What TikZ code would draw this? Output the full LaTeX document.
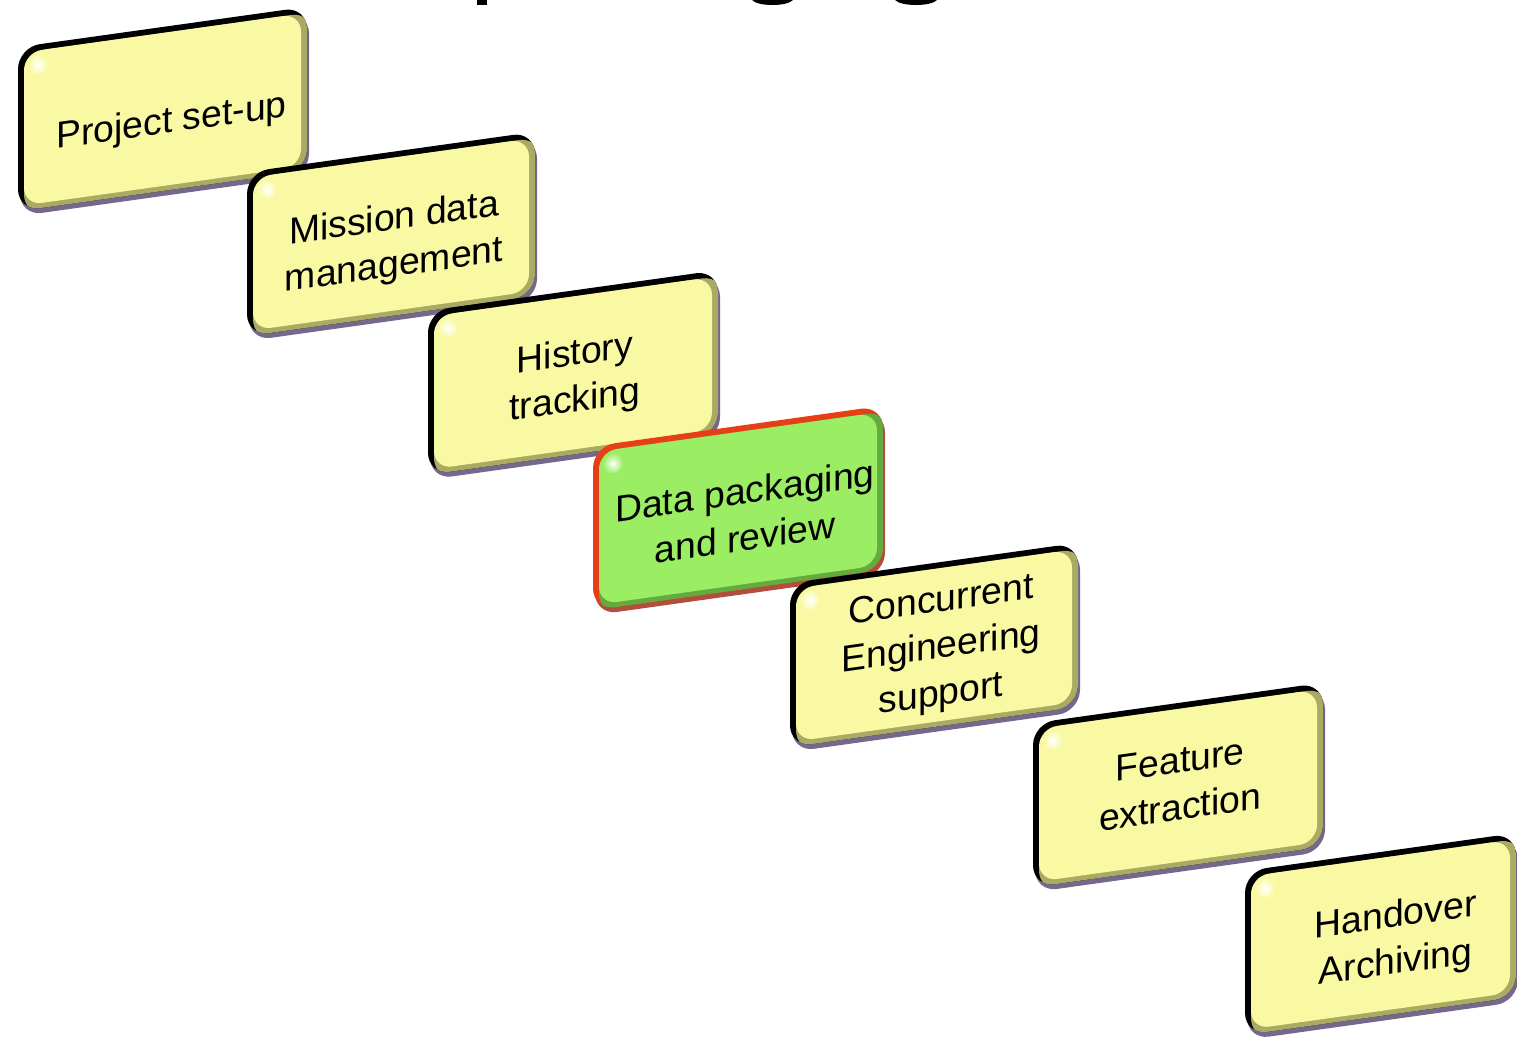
\documentclass[tikz,border=0pt]{standalone}
\usepackage{fontspec}
\setmainfont{Liberation Sans}
\definecolor{yface}{RGB}{249,249,164}
\definecolor{yborder}{RGB}{0,0,0}
\definecolor{ybevel}{RGB}{170,170,100}
\definecolor{yshadow}{RGB}{118,104,140}
\definecolor{gface}{RGB}{155,238,100}
\definecolor{gborder}{RGB}{232,62,22}
\definecolor{gbevel}{RGB}{100,170,62}
\definecolor{gshadow}{RGB}{178,78,62}
\tikzset{
  cardtext/.style={transform shape, align=center, inner sep=0pt, text=black,
    font=\fontsize{37.5}{47}\selectfont}
}
% #1 name, #2 cx, #3 cy, #4 width, #5 colour prefix, #6 text dx, #7 text dy, #8 text
\newcommand\cardbox[8]{%
\begin{scope}[shift={(#2,#3)}, yslant=0.14]
  \pgfmathsetmacro\hw{#4/2}
  \fill[#5shadow, rounded corners=22pt] (-\hw+2,-85) rectangle (\hw+2,79);
  \begin{scope}
    \clip[rounded corners=22pt] (-\hw,-80) rectangle (\hw,84);
    \fill[#5border] (-\hw,-80) rectangle (\hw,84);
    \fill[#5bevel, rounded corners=22pt] (-\hw+6,-86) rectangle (\hw+6,78);
    \fill[#5face, rounded corners=18pt] (-\hw+6,-75) rectangle (\hw-6,78);
    \shade[inner color=white, outer color=#5face] (-\hw+20,64) circle (10);
  \end{scope}
  \node[cardtext] (#1) at (#6,#7) {#8};
\end{scope}}

\begin{document}
\begin{tikzpicture}[x=1bp,y=1bp]
\useasboundingbox (0,0) rectangle (1517,1038);
\clip (0,0) rectangle (1517,1038);
\fill[white] (0,0) rectangle (1517,1038);
% fragments of a title cut off by the top edge
\fill[black] (477,1033) rectangle (487,1040);
\fill[black] (752,1040) -- (752,1038) .. controls (758,1031.3) and (787,1031.3) .. (793,1038) -- (793,1040) -- cycle;
\fill[black] (895,1040) -- (895,1038) .. controls (901,1031.3) and (931,1031.3) .. (937,1038) -- (937,1040) -- cycle;

\cardbox{setup}{162.5}{927}{289}{y}{9}{-13}{Project set-up}
\cardbox{mission}{391}{802}{288}{y}{3}{-8}{Mission data\\management}
\cardbox{history}{573}{663.5}{290}{y}{2}{-4.5}{History\\tracking}
\cardbox{packaging}{738}{528}{290}{g}{7}{-5}{Data packaging\\and review}
\cardbox{concurrent}{934}{391}{288}{y}{7}{-3}{Concurrent\\Engineering\\support}
\cardbox{feature}{1178}{251}{290}{y}{2}{3}{Feature\\extraction}
\cardbox{handover}{1380.5}{102}{271}{y}{15}{-7}{Handover\\Archiving}
\end{tikzpicture}
\end{document}
